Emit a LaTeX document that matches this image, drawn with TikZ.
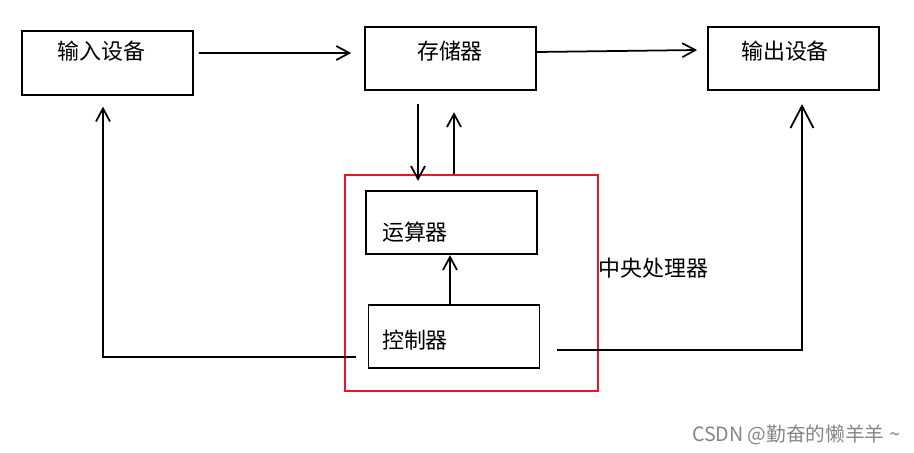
\documentclass[tikz,border=0pt]{standalone}
\usepackage{fontspec}
\newfontfamily\cjk{Noto Sans CJK SC}
\usepackage{xcolor}
\usepackage{tikz}
\usetikzlibrary{arrows.meta}
\definecolor{cpured}{RGB}{232,22,42}
\tikzstyle{unit} = [rectangle, minimum width=3.42cm, minimum height=1.27cm, draw=black, line width=1pt, fill=white, inner sep=0pt]
\tikzstyle{cpubox} = [rectangle, minimum width=5.06cm, minimum height=4.32cm, draw=cpured, line width=1.4pt]
\tikzstyle{caption} = [font=\cjk\fontsize{12.5}{15}\selectfont, inner sep=0pt]
\tikzstyle{mark_text} = [font=\cjk\fontsize{11.2}{13}\selectfont, text=black!48, inner sep=0pt]
\tikzstyle{arrow} = [line width=1pt, -{Straight Barb[length=2.6mm, width=2.8mm]}]
\tikzstyle{bigarrow} = [line width=1pt, -{Straight Barb[length=4.4mm, width=4.6mm]}]
\tikzstyle{wire} = [line width=1pt]

\begin{document}
\begin{tikzpicture}[x=0.02cm, y=-0.02cm]
                \useasboundingbox (0,0) rectangle (914,453);

% ---------------------------------------------
% Top row
% ---------------------------------------------
                \node (dev_in) [unit] at (107.5,63) {};
                \node (mem) [unit] at (450.5,58.5) {};
                \node (dev_out) [unit] at (793.5,58.5) {};

                \node (txt_in) [caption] at (101.5,51) {输入设备};
                \node (txt_mem) [caption] at (450,51) {存储器};
                \node (txt_out) [caption] at (785,51) {输出设备};

% ---------------------------------------------
% CPU (red frame)
% ---------------------------------------------
                \node (cpu) [cpubox] at (471.5,283) {};
                \node (cpu_alu) [unit] at (451.5,222.5) {};
                \node (cpu_ctl) [unit] at (454,336.5) {};

                \node (txt_alu) [caption] at (415,232) {运算器};
                \node (txt_ctl) [caption] at (415,340) {控制器};
                \node (txt_cpu) [caption] at (653.5,268) {中央处理器};

                \node (txt_mark) [mark_text] at (796,435) {CSDN @勤奋的懒羊羊 \textasciitilde};

% ---------------------------------------------
% All arrows
% ---------------------------------------------
                \draw [arrow] ([xshift=0.1cm, yshift=0.2cm]dev_in.east) -- ([xshift=-0.26cm, yshift=0.11cm]mem.west);
                \draw [arrow] ([yshift=0.13cm]mem.east) -- ([xshift=-0.2cm, yshift=0.17cm]dev_out.west);

                \draw [arrow] ([xshift=-0.65cm, yshift=-0.26cm]mem.south) -- ([xshift=-0.67cm, yshift=0.18cm]cpu_alu.north);
                \draw [arrow] ([xshift=-0.35cm]cpu.north) -- ([xshift=0.07cm, yshift=-0.42cm]mem.south);

                \draw [arrow] ([xshift=-0.08cm]cpu_ctl.north) -- ([xshift=-0.03cm]cpu_alu.south);

                %  control lines to the devices
                \draw [arrow] ([xshift=-0.24cm, yshift=-0.41cm]cpu_ctl.west) -| ([xshift=-0.09cm, yshift=-0.22cm]dev_in.south);
                \draw [bigarrow] ([xshift=0.34cm, yshift=-0.27cm]cpu_ctl.east) -| ([xshift=0.17cm, yshift=-0.26cm]dev_out.south);

            \end{tikzpicture}
\end{document}
